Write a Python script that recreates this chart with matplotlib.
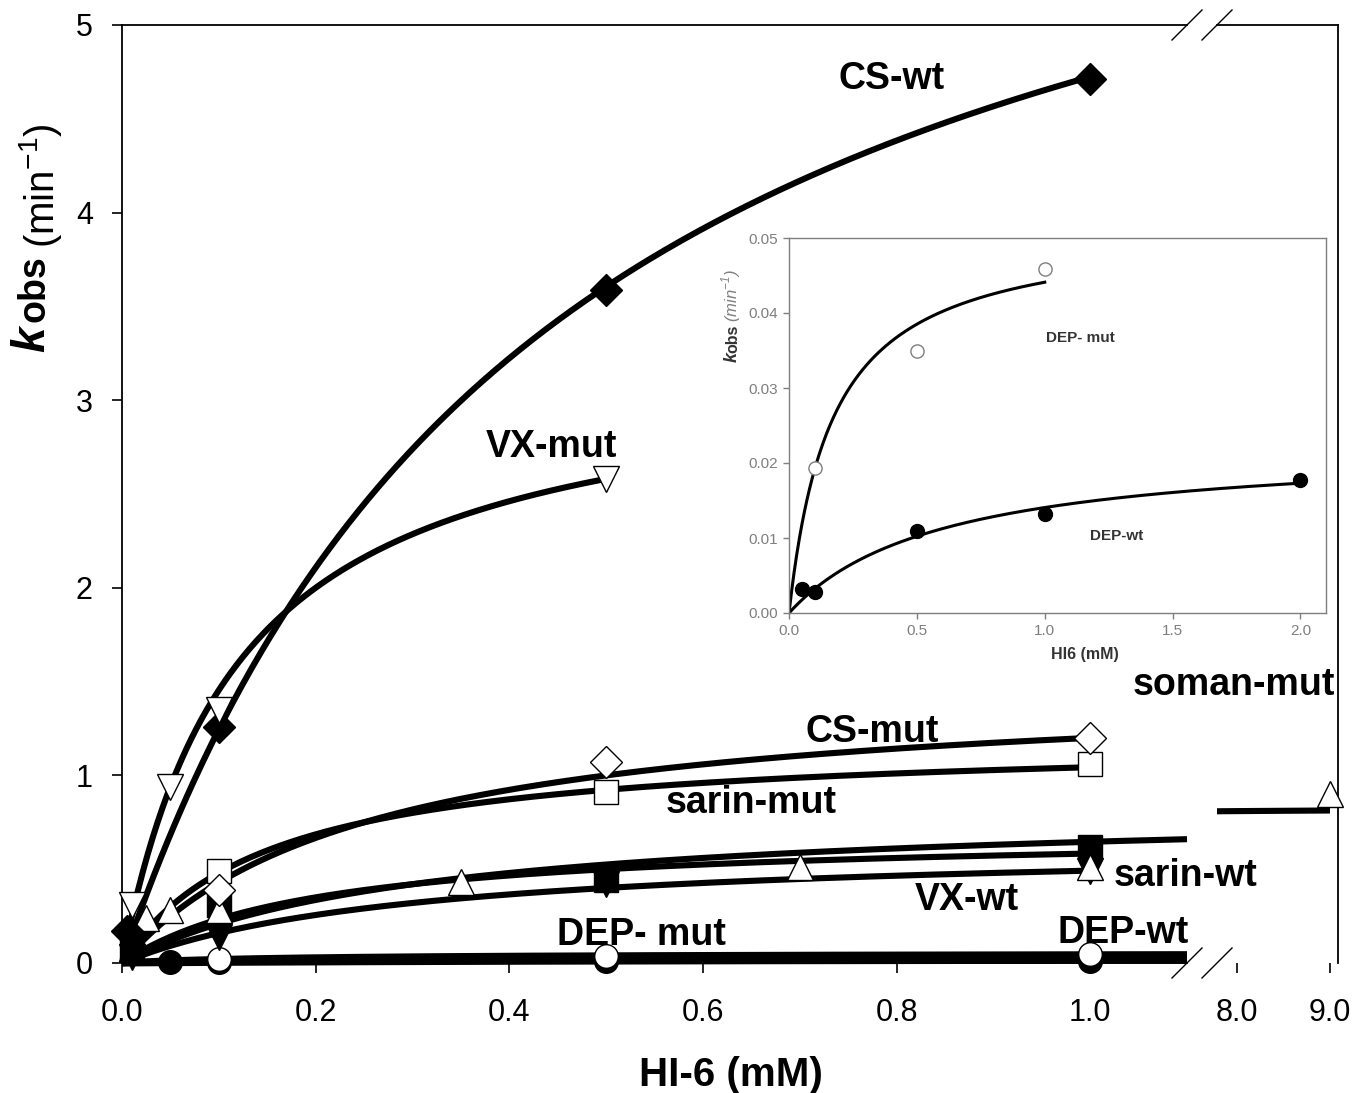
import numpy as np
import matplotlib.pyplot as plt
from matplotlib.lines import Line2D

plt.rcParams['font.family'] = ['Liberation Sans', 'DejaVu Sans']

W, H = 1357, 1093

# measured points: HI-6 (mM) vs kobs (min^-1)
cs_wt_x = [0.005, 0.1, 0.5, 1.0]
cs_wt_y = [0.17, 1.26, 3.59, 4.71]
vx_mut_x = [0.01, 0.05, 0.1, 0.5]
vx_mut_y = [0.31, 0.94, 1.35, 2.58]
cs_mut_x = [0.1, 0.5, 1.0]
cs_mut_y = [0.39, 1.07, 1.2]
sarin_mut_x = [0.1, 0.5, 1.0]
sarin_mut_y = [0.49, 0.91, 1.06]
sarin_wt_x = [0.01, 0.1, 0.5, 1.0]
sarin_wt_y = [0.09, 0.31, 0.44, 0.62]
vx_wt_x = [0.01, 0.1, 0.5, 1.0]
vx_wt_y = [0.03, 0.14, 0.42, 0.49]
soman_mut_x = [0.025, 0.05, 0.1, 0.35, 0.7, 1.0, 9.0]
soman_mut_y = [0.24, 0.28, 0.28, 0.43, 0.51, 0.51, 0.9]
dep_wt_x = [0.05, 0.1, 0.5, 1.0, 2.0]
dep_wt_y = [0.0032, 0.0028, 0.011, 0.0132, 0.0177]
dep_mut_x = [0.1, 0.5, 1.0]
dep_mut_y = [0.0193, 0.035, 0.0459]

# hyperbolic fits kobs = kmax*x/(KD+x), parameters
fit_names = ['CS-wt', 'VX-mut', 'CS-mut', 'sarin-mut', 'sarin-wt', 'VX-wt',
             'soman-mut', 'DEP-wt', 'DEP-mut']
fit_kmax = [6.85, 3.2, 1.5, 1.2, 0.7, 0.64, 0.84, 0.0225, 0.0516]
fit_kd = [0.45, 0.12, 0.25, 0.15, 0.2, 0.3, 0.3, 0.6, 0.17]
fit_xend = [1.0, 0.5, 1.0, 1.0, 1.0, 1.0, 1.1, 1.1, 1.1]

series = {
    'DEP-wt': (dep_wt_x, dep_wt_y, 'o', 'black', 17),
    'DEP-mut': (dep_mut_x, dep_mut_y, 'o', 'white', 17),
    'VX-wt': (vx_wt_x, vx_wt_y, 'v', 'black', 19),
    'sarin-wt': (sarin_wt_x, sarin_wt_y, 's', 'black', 17),
    'soman-mut': (soman_mut_x, soman_mut_y, '^', 'white', 19),
    'sarin-mut': (sarin_mut_x, sarin_mut_y, 's', 'white', 17),
    'CS-mut': (cs_mut_x, cs_mut_y, 'D', 'white', 16.5),
    'CS-wt': (cs_wt_x, cs_wt_y, 'D', 'black', 16.5),
    'VX-mut': (vx_mut_x, vx_mut_y, 'v', 'white', 19),
}


def mm(x, kmax, kd):
    return kmax * x / (kd + x)


def px(x0, x1, y0, y1):
    return [x0 / W, 1 - y1 / H, (x1 - x0) / W, (y1 - y0) / H]


fig = plt.figure(figsize=(W / 100, H / 100), dpi=100)
ax2 = fig.add_axes(px(1217, 1338, 25, 963), zorder=1)
ax1 = fig.add_axes(px(122, 1187, 25, 963), zorder=2)
ax1.patch.set_visible(False)

ax1.set_xlim(0, 1.1)
ax2.set_xlim(7.785, 9.086)
for ax in (ax1, ax2):
    ax.set_ylim(0, 5)
    for s in ax.spines.values():
        s.set_linewidth(1.3)
    ax.tick_params(direction='out', length=7, width=1.2, labelsize=22, pad=18)

ax1.spines['right'].set_visible(False)
ax2.spines['left'].set_visible(False)
ax2.spines['bottom'].set_visible(False)
ax1.tick_params(axis='y', pad=14)
ax2.tick_params(axis='y', left=False, labelleft=False)

ax1.set_xticks([0.0, 0.2, 0.4, 0.6, 0.8, 1.0])
ax1.set_xticklabels(['0.0', '0.2', '0.4', '0.6', '0.8', '1.0'])
ax1.set_yticks([0, 1, 2, 3, 4, 5])
ax2.set_xticks([8.0, 9.0])
ax2.set_xticklabels(['8.0', '9.0'])

# fitted curves
for name, kmax, kd, xend in zip(fit_names, fit_kmax, fit_kd, fit_xend):
    lw = 5.0 if name.startswith('DEP') else 4.4
    xs = np.linspace(0, xend, 300)
    ax1.plot(xs, mm(xs, kmax, kd), color='black', lw=lw, zorder=2,
             solid_capstyle='butt', clip_on=False)
    if name == 'soman-mut':
        xs2 = np.linspace(7.785, 9.0, 50)
        ax2.plot(xs2, mm(xs2, kmax, kd), color='black', lw=lw, zorder=2,
                 solid_capstyle='butt')

# points
for name, (xv, yv, mk, fc, ms) in series.items():
    xv = np.array(xv)
    yv = np.array(yv)
    m1 = xv <= 1.1
    m2 = xv >= 7.785
    for ax, m in ((ax1, m1), (ax2, m2)):
        if m.any():
            ax.plot(xv[m], yv[m], ls='none', marker=mk, ms=ms,
                    mfc=fc, mec='black', mew=1.0, zorder=3, clip_on=False)

# series labels
lab = dict(fontsize=27, fontweight='bold', ha='center', va='center', zorder=6)
ax1.text(0.795, 4.71, 'CS-wt', **lab)
ax1.text(0.444, 2.75, 'VX-mut', **lab)
ax1.text(0.775, 1.23, 'CS-mut', **lab)
ax1.text(0.650, 0.853, 'sarin-mut', **lab)
ax1.text(1.098, 0.464, 'sarin-wt', **lab)
ax1.text(0.873, 0.336, 'VX-wt', **lab)
ax1.text(0.537, 0.149, 'DEP- mut', **lab)
ax1.text(1.034, 0.16, 'DEP-wt', **lab)
ax1.text(1.148, 1.48, 'soman-mut', **lab)

# axis titles
fig.text(731 / W, 1 - 1075 / H, 'HI-6 (mM)', fontsize=29, fontweight='bold',
         ha='center', va='center')
rot = dict(rotation=90, rotation_mode='anchor', ha='left', va='baseline')
fig.text(44 / W, 1 - 352 / H, 'k', fontsize=33, fontweight='bold',
         style='italic', **rot)
fig.text(44 / W, 1 - 322 / H, 'obs', fontsize=27, fontweight='bold', **rot)
fig.text(54 / W, 1 - 248 / H, '(min$^{\\mathregular{-1}}$)', fontsize=29, **rot)

# axis break marks
for cx in (1187, 1217):
    for cy in (25, 963):
        fig.add_artist(Line2D([(cx - 15) / W, (cx + 15) / W],
                              [1 - (cy + 15) / H, 1 - (cy - 15) / H],
                              color='black', lw=1.0))

# inset with the DEP data
GREY = '#7f7f7f'
ax3 = fig.add_axes(px(789, 1326, 238, 613), zorder=5)
ax3.set_facecolor('white')
ax3.set_xlim(0, 2.1)
ax3.set_ylim(0, 0.05)
ax3.set_xticks([0.0, 0.5, 1.0, 1.5, 2.0])
ax3.set_xticklabels(['0.0', '0.5', '1.0', '1.5', '2.0'])
ax3.set_yticks([0.0, 0.01, 0.02, 0.03, 0.04, 0.05])
ax3.set_yticklabels(['0.00', '0.01', '0.02', '0.03', '0.04', '0.05'])
for s in ax3.spines.values():
    s.set_color(GREY)
    s.set_linewidth(1.0)
ax3.tick_params(direction='out', length=4, width=1.0, color=GREY,
                labelcolor=GREY, labelsize=11, pad=4)

k_wt = fit_kmax[fit_names.index('DEP-wt')]
d_wt = fit_kd[fit_names.index('DEP-wt')]
k_mu = fit_kmax[fit_names.index('DEP-mut')]
d_mu = fit_kd[fit_names.index('DEP-mut')]
xs = np.linspace(0, 2.0, 300)
ax3.plot(xs, mm(xs, k_wt, d_wt), color='black', lw=2.2)
xs = np.linspace(0, 1.0, 300)
ax3.plot(xs, mm(xs, k_mu, d_mu), color='black', lw=2.2)
ax3.plot(dep_wt_x, dep_wt_y, 'o', ms=10, color='black', clip_on=False)
ax3.plot(dep_mut_x, dep_mut_y, 'o', ms=9.5, mfc='white', mec=GREY, mew=1.0,
         clip_on=False)
ax3.text(1.14, 0.0366, 'DEP- mut', fontsize=11, fontweight='bold',
         color='#333333', ha='center', va='center')
ax3.text(1.28, 0.0102, 'DEP-wt', fontsize=11, fontweight='bold',
         color='#333333', ha='center', va='center')
fig.text(1085 / W, 1 - 655 / H, 'HI6 (mM)', fontsize=11.5, fontweight='bold',
         color='#333333', ha='center', va='center')
fig.text(737 / W, 1 - 362 / H, 'k', fontsize=13, fontweight='bold',
         style='italic', color='#333333', **rot)
fig.text(737 / W, 1 - 353 / H, 'obs', fontsize=11.5, fontweight='bold',
         color='#333333', **rot)
fig.text(737 / W, 1 - 322 / H, '(min$^{\\mathregular{-1}}$)', fontsize=12,
         style='italic', color=GREY, **rot)

fig.savefig('out.png', dpi=100)
